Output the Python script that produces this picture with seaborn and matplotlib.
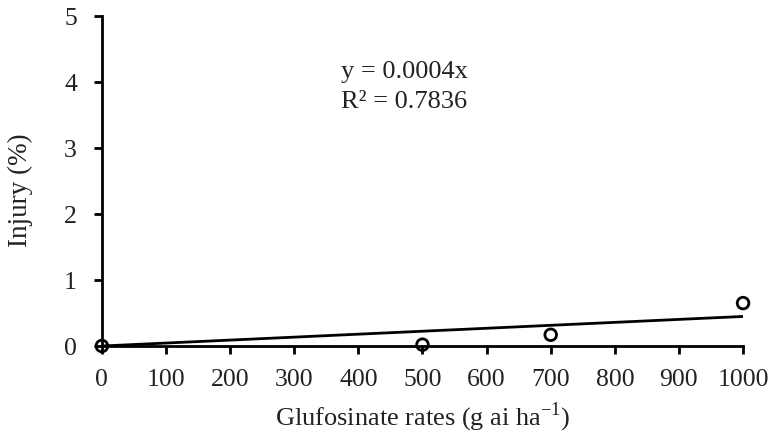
import numpy as np
import pandas as pd
import matplotlib
matplotlib.use('Agg')
import matplotlib.pyplot as plt
import seaborn as sns

# glufosinate rate (g ai/ha) vs injury (%)
rates = [0, 500, 700, 1000]
injury = [0.0, 0.02, 0.17, 0.65]
x_ticks = [0, 100, 200, 300, 400, 500, 600, 700, 800, 900, 1000]
y_ticks = [0, 1, 2, 3, 4, 5]
eq_label = 'y = 0.0004x\nR\u00b2 = 0.7836'

sns.set_theme(style='ticks')
plt.rcParams['font.family'] = ['Liberation Serif', 'DejaVu Serif']
plt.rcParams['mathtext.fontset'] = 'custom'
plt.rcParams['mathtext.rm'] = 'Liberation Serif'

df = pd.DataFrame({'rate': rates, 'injury': injury})

# linear trend forced through origin
x = np.array(rates, dtype=float)
y = np.array(injury)
slope = (x * y).sum() / (x * x).sum()
fit = pd.DataFrame({'rate': [0, max(rates)], 'injury': [0, slope * max(rates)]})

fig = plt.figure(figsize=(7.72, 4.35), dpi=100)
ax = fig.add_axes([0.132, 0.2023, 0.8305, 0.7587])

sns.lineplot(data=fit, x='rate', y='injury', ax=ax, color='black', linewidth=2,
             zorder=2)
sns.scatterplot(data=df, x='rate', y='injury', ax=ax, marker='o', s=70,
                facecolor='none', edgecolor='black', linewidth=2, zorder=2,
                clip_on=False)

ax.set_xlim(0, 1000)
ax.set_ylim(0, 5)
ax.set_xticks(x_ticks)
ax.set_yticks(y_ticks)
ax.tick_params(labelsize=18.5, width=2, length=6, color='black', labelcolor='#222222')
ax.tick_params(axis='y', pad=12)
ax.tick_params(axis='x', pad=10)
ax.set_xlabel(r'Glufosinate rates (g ai ha$^{\mathrm{-1}}$)', fontsize=19,
              color='#222222', labelpad=7)
ax.set_ylabel('Injury (%)', fontsize=19.5, color='#222222')
ax.yaxis.set_label_coords(-0.107, 0.476)
for side in ['left', 'bottom']:
    ax.spines[side].set_linewidth(2)
    ax.spines[side].set_color('black')
    ax.spines[side].set_zorder(3)
sns.despine(ax=ax)

ax.text(373, 3.94, eq_label, fontsize=19, va='center', ha='left',
        color='#222222', linespacing=1.42)

fig.savefig('out.png', dpi=100)
plt.close()
